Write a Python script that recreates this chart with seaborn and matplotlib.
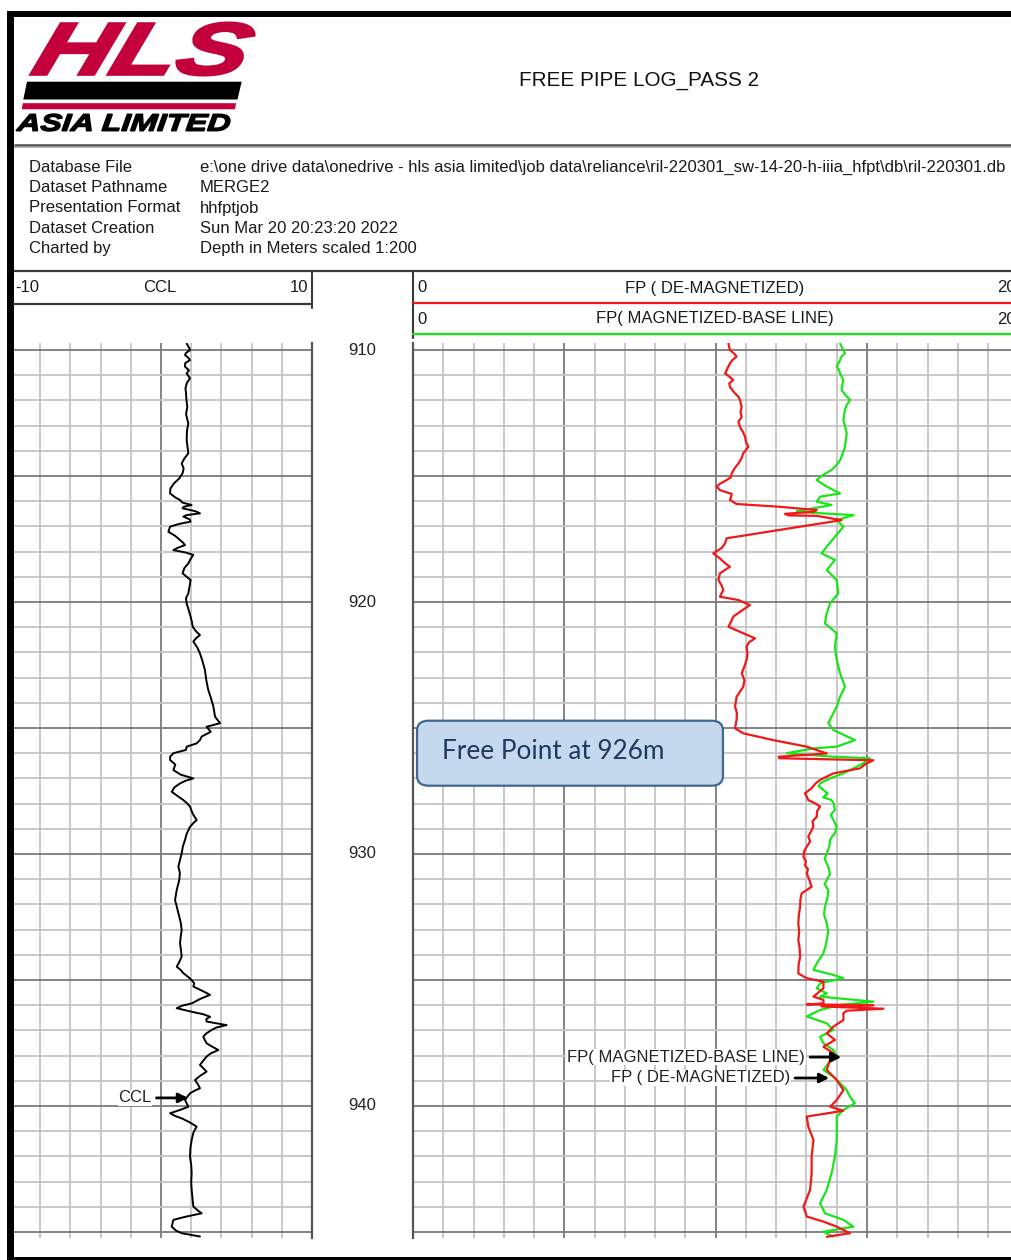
import matplotlib
matplotlib.use("Agg")
import numpy as np
import pandas as pd
import seaborn as sns
import matplotlib.pyplot as plt
from matplotlib.textpath import TextPath
from matplotlib.font_manager import FontProperties
from matplotlib.patches import PathPatch, FancyBboxPatch, Polygon, Rectangle
from matplotlib.transforms import Affine2D, blended_transform_factory

# ---------------- data: (depth m, reading) ----------------
ccl_log = [
    (909.74, 1.70), (909.90, 1.85), (910.00, 1.92), (910.12, 1.65), (910.20, 1.59),
    (910.30, 1.80), (910.40, 1.92), (910.52, 1.60), (910.66, 1.59), (910.80, 1.85),
    (910.93, 1.70), (911.12, 1.92), (911.32, 1.70), (911.52, 1.62), (911.72, 1.66),
    (911.95, 1.68), (912.25, 1.74), (912.55, 1.66), (912.91, 1.81), (913.20, 1.72),
    (913.57, 1.70), (913.85, 1.76), (914.10, 1.81), (914.30, 1.55), (914.50, 1.37),
    (914.70, 1.50), (914.89, 1.43), (915.10, 1.20), (915.29, 0.86), (915.50, 0.62),
    (915.69, 0.60), (915.85, 0.95), (915.95, 1.26), (916.05, 1.40), (916.15, 2.03),
    (916.22, 1.50), (916.28, 1.43), (916.40, 2.30), (916.48, 2.58), (916.55, 1.70),
    (916.61, 1.48), (916.72, 1.90), (916.81, 1.96), (916.90, 1.20), (917.01, 0.60),
    (917.21, 0.49), (917.38, 0.95), (917.54, 1.26), (917.64, 1.45), (917.74, 1.59),
    (917.85, 1.10), (917.94, 0.82), (918.03, 1.60), (918.13, 2.14), (918.30, 1.95),
    (918.47, 1.81), (918.65, 1.55), (918.86, 1.43), (919.00, 1.70), (919.13, 1.96),
    (919.40, 1.88), (919.66, 1.81), (919.85, 1.65), (920.05, 1.70), (920.30, 1.82),
    (920.58, 1.96), (920.80, 2.05), (920.98, 2.10), (921.15, 2.30), (921.31, 2.58),
    (921.45, 2.30), (921.57, 2.14), (921.80, 2.40), (922.04, 2.58), (922.35, 2.75),
    (922.70, 2.91), (923.10, 3.00), (923.49, 3.13), (923.80, 3.30), (924.15, 3.47),
    (924.55, 3.58), (924.81, 3.91), (924.95, 3.02), (925.15, 3.29), (925.34, 2.69),
    (925.48, 2.58), (925.61, 2.36), (925.74, 1.70), (925.87, 1.65), (926.00, 0.82),
    (926.14, 0.60), (926.27, 0.60), (926.45, 0.95), (926.67, 0.82), (926.85, 1.30),
    (927.00, 2.14), (927.10, 1.60), (927.20, 1.26), (927.35, 0.90), (927.53, 0.71),
    (927.70, 1.10), (927.86, 1.48), (928.00, 1.75), (928.12, 1.92), (928.40, 2.10),
    (928.65, 2.36), (928.80, 2.10), (928.92, 1.92), (929.20, 1.70), (929.44, 1.59),
    (929.70, 1.45), (929.97, 1.37), (930.25, 1.25), (930.50, 1.15), (930.75, 1.25),
    (931.03, 1.21), (931.43, 1.04), (931.83, 0.93), (932.10, 1.05), (932.35, 1.15),
    (932.70, 1.30), (933.02, 1.37), (933.30, 1.30), (933.55, 1.26), (933.80, 1.32),
    (934.07, 1.37), (934.30, 1.20), (934.47, 1.04), (934.60, 1.30), (934.73, 1.48),
    (934.88, 1.80), (935.00, 2.03), (935.13, 2.20), (935.26, 2.14), (935.45, 2.80),
    (935.59, 3.25), (935.75, 2.60), (935.93, 2.03), (936.02, 1.40), (936.12, 1.04),
    (936.20, 1.60), (936.26, 2.03), (936.36, 2.80), (936.46, 3.25), (936.55, 3.00),
    (936.65, 3.02), (936.79, 4.35), (936.88, 3.70), (936.98, 3.36), (937.12, 3.00),
    (937.25, 2.80), (937.38, 2.90), (937.51, 3.02), (937.65, 3.40), (937.78, 3.80),
    (937.91, 3.30), (938.04, 3.02), (938.20, 2.80), (938.37, 2.58), (938.50, 2.80),
    (938.64, 3.02), (938.80, 2.60), (938.97, 2.25), (939.15, 2.45), (939.30, 2.58),
    (939.40, 2.20), (939.50, 1.92), (939.63, 1.75), (939.76, 1.59), (939.90, 1.70),
    (940.03, 1.81), (940.15, 1.30), (940.29, 0.60), (940.40, 0.95), (940.49, 1.37),
    (940.65, 1.90), (940.82, 2.36), (941.05, 2.15), (941.35, 2.03), (941.65, 1.95),
    (942.01, 1.92), (942.35, 2.00), (942.67, 2.03), (943.00, 2.00), (943.33, 2.03),
    (943.65, 2.08), (943.99, 2.14), (944.13, 2.40), (944.26, 2.69), (944.40, 1.60),
    (944.52, 0.82), (944.79, 0.71), (944.95, 1.00), (945.05, 1.37), (945.18, 2.58),
]

demag_log = [
    (909.74, 10.42), (910.00, 10.47), (910.13, 10.60), (910.26, 10.69), (910.40, 10.55),
    (910.53, 10.47), (910.70, 10.40), (910.93, 10.31), (911.05, 10.45), (911.19, 10.58),
    (911.32, 10.45), (911.46, 10.47), (911.59, 10.55), (911.72, 10.64), (911.85, 10.75),
    (911.98, 10.80), (912.25, 10.86), (912.45, 10.82), (912.65, 10.86), (912.85, 10.75),
    (913.04, 10.80), (913.25, 10.90), (913.44, 10.97), (913.65, 11.00), (913.84, 11.08),
    (914.10, 10.91), (914.30, 10.85), (914.50, 10.75), (914.70, 10.62), (914.89, 10.53),
    (915.05, 10.50), (915.16, 10.36), (915.30, 10.15), (915.42, 10.03), (915.56, 10.14),
    (915.71, 10.53), (915.85, 10.50), (915.95, 10.47), (916.11, 10.69), (916.22, 12.12),
    (916.35, 13.34), (916.42, 13.23), (916.50, 12.29), (916.56, 12.40), (916.58, 13.34),
    (916.75, 14.16), (917.47, 10.36), (917.67, 10.31), (917.85, 10.20), (918.07, 9.92),
    (918.27, 10.14), (918.45, 10.30), (918.60, 10.47), (918.86, 10.14), (919.13, 10.09),
    (919.35, 10.20), (919.52, 10.25), (919.79, 10.14), (919.92, 10.75), (920.12, 11.13),
    (920.35, 10.85), (920.58, 10.58), (920.80, 10.50), (920.98, 10.42), (921.24, 10.91),
    (921.44, 11.30), (921.60, 11.10), (921.77, 11.02), (922.05, 11.05), (922.30, 11.02),
    (922.55, 10.95), (922.83, 10.86), (923.10, 10.95), (923.36, 10.91), (923.76, 10.69),
    (924.15, 10.64), (924.40, 10.70), (924.68, 10.69), (925.01, 10.64), (925.21, 10.91),
    (925.48, 11.90), (925.74, 13.01), (926.01, 13.67), (926.14, 12.08), (926.20, 12.10),
    (926.28, 15.21), (926.43, 14.95), (926.60, 14.77), (926.80, 13.89), (927.06, 13.45),
    (927.20, 13.30), (927.39, 13.17), (927.59, 12.95), (927.70, 13.00), (927.86, 13.06),
    (928.00, 13.30), (928.12, 13.45), (928.30, 13.35), (928.52, 13.34), (928.70, 13.20),
    (928.92, 13.23), (929.10, 13.15), (929.31, 13.06), (929.50, 13.12), (929.71, 13.01),
    (929.90, 12.92), (930.11, 12.90), (930.30, 12.98), (930.45, 12.95), (930.60, 13.05),
    (930.77, 13.01), (931.05, 13.10), (931.30, 13.17), (931.56, 12.84), (931.80, 12.80),
    (932.09, 12.79), (932.40, 12.75), (932.75, 12.73), (933.10, 12.76), (933.41, 12.73),
    (933.70, 12.77), (934.07, 12.79), (934.40, 12.74), (934.74, 12.73), (934.93, 13.01),
    (935.07, 13.56), (935.33, 13.56), (935.66, 13.23), (935.79, 13.56), (935.93, 13.56),
    (935.97, 13.01), (936.00, 15.21), (936.05, 13.50), (936.14, 15.54), (936.22, 14.33),
    (936.32, 14.22), (936.59, 14.22), (936.85, 13.89), (937.12, 13.67), (937.38, 13.94),
    (937.65, 13.56), (937.91, 13.89), (938.17, 13.78), (938.57, 13.67), (938.97, 14.00),
    (939.37, 14.22), (939.76, 14.00), (940.03, 13.78), (940.19, 14.22), (940.42, 13.01),
    (940.82, 13.06), (941.35, 13.23), (942.01, 13.17), (942.67, 13.17), (943.33, 13.12),
    (943.99, 12.90), (944.39, 13.01), (944.59, 13.56), (944.79, 14.00), (945.05, 14.44),
    (945.19, 13.67),
]

base_log = [
    (909.74, 14.11), (909.95, 14.20), (910.13, 14.27), (910.27, 14.15), (910.40, 14.11),
    (910.66, 14.00), (910.80, 14.08), (910.93, 14.11), (911.19, 14.22), (911.40, 14.18),
    (911.59, 14.16), (911.80, 14.30), (911.98, 14.44), (912.20, 14.32), (912.38, 14.27),
    (912.78, 14.22), (913.05, 14.28), (913.31, 14.33), (913.84, 14.27), (914.10, 14.20),
    (914.37, 14.11), (914.55, 14.00), (914.76, 13.83), (914.95, 13.55), (915.16, 13.34),
    (915.42, 13.67), (915.69, 14.11), (915.82, 13.45), (916.02, 13.34), (916.15, 13.83),
    (916.28, 13.23), (916.39, 12.68), (916.46, 13.23), (916.55, 14.55), (916.75, 14.00),
    (917.01, 14.22), (917.41, 13.94), (917.80, 13.67), (918.07, 13.50), (918.33, 13.94),
    (918.73, 13.67), (919.13, 14.00), (919.66, 14.05), (920.05, 13.78), (920.45, 13.67),
    (920.85, 13.61), (921.24, 14.00), (921.77, 13.94), (922.30, 14.00), (922.83, 14.11),
    (923.36, 14.27), (923.76, 14.11), (924.15, 14.00), (924.55, 13.83), (924.81, 13.72),
    (925.08, 13.89), (925.48, 14.60), (925.74, 14.00), (925.81, 13.23), (926.00, 12.34),
    (926.14, 13.89), (926.20, 15.10), (926.40, 14.88), (926.60, 14.55), (926.80, 14.22),
    (927.00, 13.78), (927.10, 13.60), (927.20, 13.45), (927.30, 13.40), (927.46, 13.56),
    (927.60, 13.70), (927.75, 13.55), (927.86, 13.83), (928.00, 13.90), (928.25, 13.94),
    (928.45, 13.80), (928.65, 13.89), (928.90, 14.00), (929.18, 13.94), (929.30, 13.85),
    (929.44, 13.78), (929.70, 13.75), (929.97, 13.67), (930.20, 13.60), (930.50, 13.72),
    (930.80, 13.78), (931.03, 13.67), (931.20, 13.60), (931.43, 13.72), (931.70, 13.70),
    (932.09, 13.61), (932.40, 13.58), (932.75, 13.67), (933.10, 13.72), (933.41, 13.67),
    (933.70, 13.62), (933.94, 13.56), (934.34, 13.34), (934.60, 13.23), (934.80, 13.89),
    (934.93, 14.22), (935.13, 13.45), (935.33, 13.34), (935.53, 13.67), (935.66, 13.45),
    (935.86, 15.21), (935.99, 14.11), (936.19, 13.45), (936.45, 13.01), (936.72, 13.67),
    (936.98, 13.89), (937.25, 13.45), (937.51, 13.56), (937.78, 13.89), (938.04, 14.00),
    (938.31, 13.72), (938.57, 13.56), (938.84, 13.89), (939.10, 14.11), (939.37, 14.33),
    (939.63, 14.44), (939.89, 14.60), (940.16, 14.22), (940.42, 14.00), (941.35, 14.00),
    (942.01, 13.94), (942.67, 13.83), (943.33, 13.67), (943.86, 13.45), (944.26, 13.61),
    (944.52, 14.22), (944.79, 14.55), (944.99, 13.56), (945.19, 13.89),
]

depth_labels = [910, 920, 930, 940]
free_point_depth = 926

info_labels = ["Database File", "Dataset Pathname", "Presentation Format",
               "Dataset Creation", "Charted by"]
info_values = [r"e:\one drive data\onedrive - hls asia limited\job data\reliance"
               r"\ril-220301_sw-14-20-h-iiia_hfpt\db\ril-220301.db",
               "MERGE2", "hhfptjob", "Sun Mar 20 20:23:20 2022",
               "Depth in Meters scaled 1:200"]

# ---------------- figure ----------------
sns.set_style("white")
plt.rcParams["font.family"] = ["Liberation Sans", "DejaVu Sans"]

W, H = 1011, 1260
fig = plt.figure(figsize=(W / 100, H / 100), dpi=100)
fig.patch.set_facecolor("white")


def frac(x0, y0, x1, y1):
    return [x0 / W, 1 - y1 / H, (x1 - x0) / W, (y1 - y0) / H]


TOP_D, BOT_D = 909.72, 945.24
MINOR_C, MAJOR_C = "#c4c4c4", "#7a7a7a"
TXT = "#1a1a1a"

ccl_ax = fig.add_axes(frac(10, 343, 312, 1238))
dep_ax = fig.add_axes(frac(312, 343, 413.1, 1238))
fp_ax = fig.add_axes(frac(413.1, 343, 1018.3, 1238))


def style_track(ax, xlim, minor_x, major_x):
    ax.set_xlim(*xlim)
    ax.set_ylim(BOT_D, TOP_D)
    ax.set_xticks(minor_x, minor=True)
    ax.set_xticks(major_x)
    ax.set_yticks(np.arange(910, 946, 1), minor=True)
    ax.set_yticks(np.arange(910, 946, 5))
    ax.grid(which="minor", color=MINOR_C, lw=1.3)
    ax.grid(which="major", color=MAJOR_C, lw=1.3)
    ax.set_axisbelow(True)
    ax.tick_params(which="both", length=0, labelbottom=False, labelleft=False)
    ax.set_xlabel("")
    ax.set_ylabel("")
    for s in ax.spines.values():
        s.set_visible(False)


def to_frame(log, name):
    depth, value = zip(*log)
    return pd.DataFrame({"depth": depth, name: value})


# CCL track
ccl_df = to_frame(ccl_log, "ccl")
sns.lineplot(data=ccl_df, x="ccl", y="depth", orient="y", sort=False,
             estimator=None, color="black", lw=1.4, ax=ccl_ax)
style_track(ccl_ax, (-10, 10), np.arange(-10, 11, 2), [0])
ccl_ax.spines["right"].set_visible(True)
ccl_ax.spines["right"].set_color("#555555")
ccl_ax.spines["right"].set_linewidth(1.6)

# free pipe track
demag_df = to_frame(demag_log, "fp")
base_df = to_frame(base_log, "fp")
sns.lineplot(data=base_df, x="fp", y="depth", orient="y", sort=False,
             estimator=None, color="#19e619", lw=1.6, ax=fp_ax)
sns.lineplot(data=demag_df, x="fp", y="depth", orient="y", sort=False,
             estimator=None, color="#f01818", lw=1.6, ax=fp_ax)
style_track(fp_ax, (0, 20), np.arange(0, 21, 1), [0, 5, 10, 15, 20])
fp_ax.spines["left"].set_visible(True)
fp_ax.spines["left"].set_color("#555555")
fp_ax.spines["left"].set_linewidth(1.6)

# depth column
dep_ax.set_ylim(BOT_D, TOP_D)
dep_ax.axis("off")
dep_tr = blended_transform_factory(dep_ax.transAxes, dep_ax.transData)
for d in depth_labels:
    dep_ax.text(0.5, d, str(d), transform=dep_tr, ha="center", va="center",
                fontsize=12, color="#222222")

# free point call-out
box_x0, box_x1, half_h = 0.13, 10.24, 1.29
fp_ax.add_patch(FancyBboxPatch((box_x0, free_point_depth - half_h), box_x1 - box_x0, 2 * half_h,
                               boxstyle="round,pad=0,rounding_size=0.38",
                               facecolor="#c6d8ee", edgecolor="#41668f", lw=1.6, zorder=6))
fp_ax.text(0.95, free_point_depth - 0.05, f"Free Point at {free_point_depth}m",
           family=["Lato", "DejaVu Sans"], fontsize=18.8, color="#1f3a5f",
           ha="left", va="center", zorder=7)

# curve labels with arrows
lab_box = dict(facecolor="white", edgecolor="none", pad=0.6)
arrow = dict(arrowstyle="-|>", color="black", lw=2.0, mutation_scale=14,
             shrinkA=0, shrinkB=0)
fp_ax.text(12.95, 938.06, "FP( MAGNETIZED-BASE LINE)", ha="right", va="center",
           fontsize=12, color="#222222", bbox=lab_box, zorder=5)
fp_ax.annotate("", xy=(14.15, 938.06), xytext=(13.12, 938.06), arrowprops=arrow, zorder=5)
fp_ax.text(12.46, 938.89, "FP ( DE-MAGNETIZED)", ha="right", va="center",
           fontsize=12, color="#222222", bbox=lab_box, zorder=5)
fp_ax.annotate("", xy=(13.75, 938.89), xytext=(12.62, 938.89), arrowprops=arrow, zorder=5)
ccl_ax.text(-0.62, 939.68, "CCL", ha="right", va="center", fontsize=12,
            color="#222222", bbox=lab_box, zorder=5)
ccl_ax.annotate("", xy=(1.79, 939.68), xytext=(-0.3, 939.68), arrowprops=arrow, zorder=5)

# ---------------- page furniture (pixel coordinates) ----------------
ov = fig.add_axes([0, 0, 1, 1])
ov.set_xlim(0, W)
ov.set_ylim(H, 0)
ov.axis("off")

# outer frame
ov.add_patch(Rectangle((7, 11), W, 5.5, color="black", lw=0))
ov.add_patch(Rectangle((7, 11), 7, H, color="black", lw=0))
ov.add_patch(Rectangle((7, 1256.5), W, 5, color="black", lw=0))

# separators
ov.plot([14, W], [144.5, 144.5], color="#4a4a4a", lw=1.8, solid_capstyle="butt")
ov.plot([14, W], [147, 147], color="#a0a0a0", lw=1.2, solid_capstyle="butt")
ov.plot([14, W], [271, 271], color="#3a3a3a", lw=1.6, solid_capstyle="butt")


def text_in_box(ax, s, x0, y0, x1, y1, color, prop, skew=0.0, stroke=0.6):
    tp = TextPath((0, 0), s, size=100, prop=prop)
    p = Affine2D().skew_deg(skew, 0).transform_path(tp)
    ext = p.get_extents()
    sx = (x1 - x0) / ext.width
    sy = (y1 - y0) / ext.height
    tr = Affine2D().translate(-ext.x0, -ext.y0).scale(sx, -sy).translate(x0, y1)
    ax.add_patch(PathPatch(tr.transform_path(p), facecolor=color, edgecolor=color,
                           lw=stroke, joinstyle="miter"))


logo_red = "#c4003c"
bold_it = FontProperties(family="Liberation Sans", weight="bold", style="italic")
text_in_box(ov, "HLS", 31, 23, 254, 75, logo_red, bold_it, skew=12, stroke=2.2)
ov.add_patch(Polygon([(23.3, 99.5), (27, 81.7), (241.7, 81.7), (237.5, 99.5)],
                     closed=True, color="black", lw=0))
ov.add_patch(Polygon([(21.7, 109.3), (22.8, 103.2), (236, 103.2), (235, 109.3)],
                     closed=True, color=logo_red, lw=0))
text_in_box(ov, "ASIA LIMITED", 16, 114, 230, 131, "black", bold_it, skew=4, stroke=1.0)

ov.text(639, 80, "FREE PIPE LOG_PASS 2", ha="center", va="center",
        fontsize=14.9, color="#111111")

for i, (lab, val) in enumerate(zip(info_labels, info_values)):
    y = 167 + i * 20.5
    ov.text(29, y, lab, ha="left", va="center", fontsize=12, color=TXT)
    ov.text(200, y, val, ha="left", va="center", fontsize=12, color=TXT)

# track headers
ov.plot([312, 312], [271, 308], color="#3a3a3a", lw=1.5)
ov.plot([14, 312], [303.5, 303.5], color="#3a3a3a", lw=1.6)
ov.text(15, 288, "-10", ha="left", va="center", fontsize=12, color=TXT)
ov.text(160, 288, "CCL", ha="center", va="center", fontsize=12, color=TXT)
ov.text(308, 288, "10", ha="right", va="center", fontsize=12, color=TXT)

ov.plot([413, 413], [271, 338], color="#3a3a3a", lw=1.5)
ov.plot([413, W], [303, 303], color="#f01818", lw=1.6)
ov.plot([413, W], [334, 334], color="#19e619", lw=1.6)
ov.text(417, 288, "0", ha="left", va="center", fontsize=12, color=TXT)
ov.text(715, 288, "FP ( DE-MAGNETIZED)", ha="center", va="center", fontsize=12, color=TXT)
ov.text(1016, 288, "20", ha="right", va="center", fontsize=12, color=TXT)
ov.text(417, 319, "0", ha="left", va="center", fontsize=12, color=TXT)
ov.text(715, 319, "FP( MAGNETIZED-BASE LINE)", ha="center", va="center", fontsize=12, color=TXT)
ov.text(1016, 319, "20", ha="right", va="center", fontsize=12, color=TXT)

fig.savefig("out.png", dpi=100, facecolor="white")
